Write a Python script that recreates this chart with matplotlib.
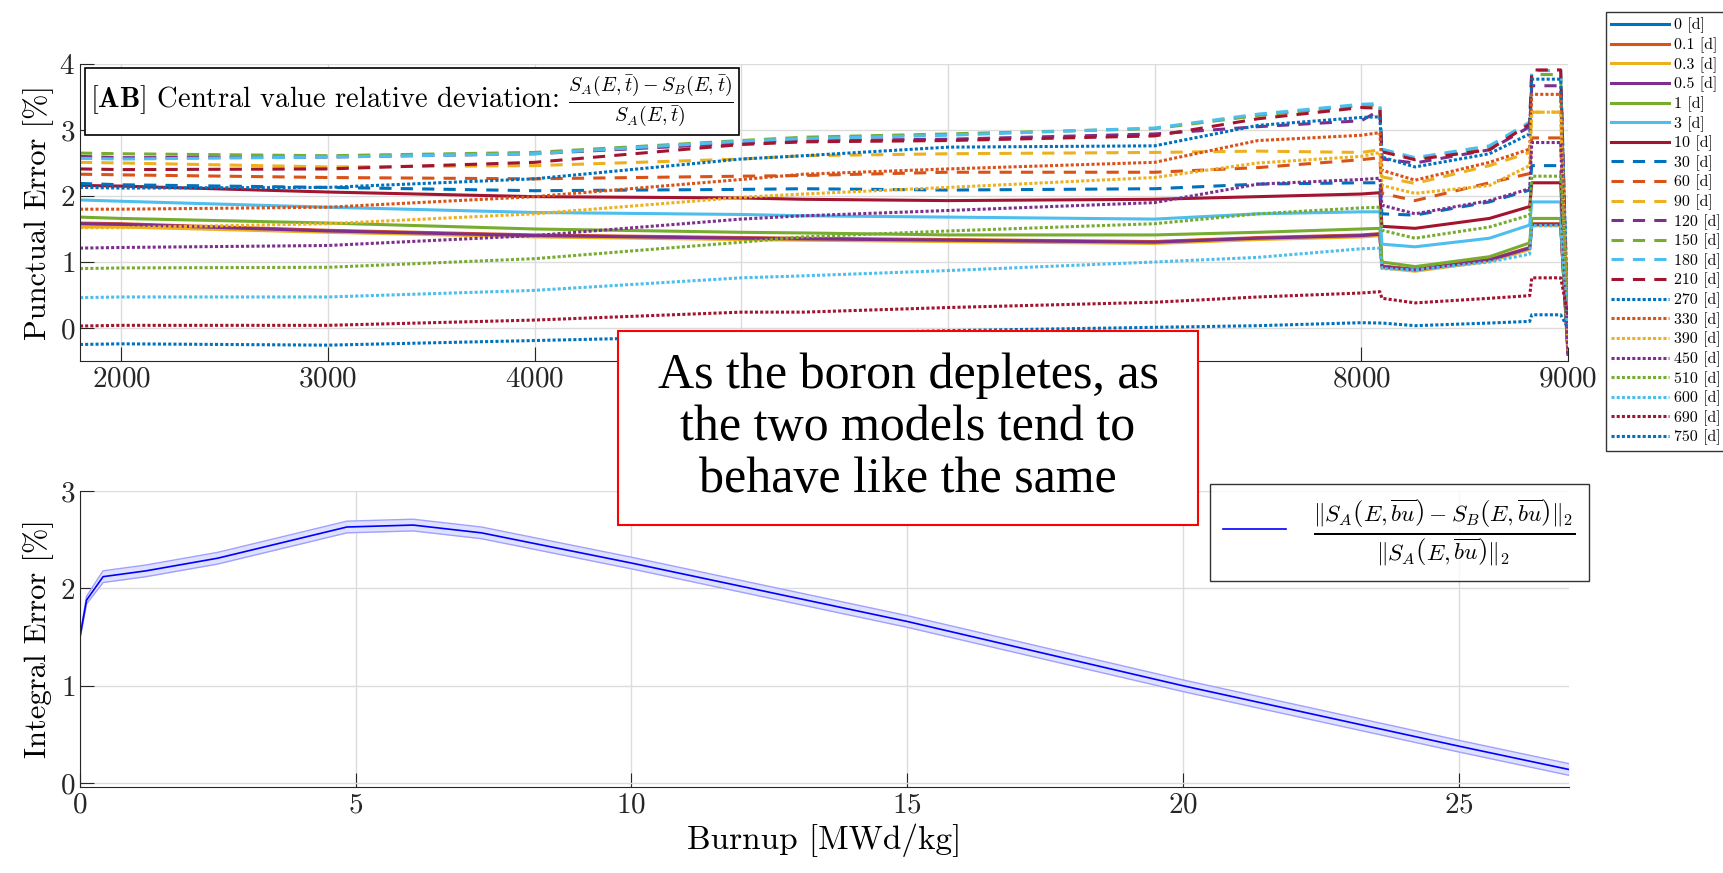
import matplotlib
matplotlib.use('Agg')
from matplotlib import pyplot as plt
from matplotlib.patches import Rectangle

plt.rcParams['font.family'] = ['cmr10']
plt.rcParams['mathtext.fontset'] = 'cm'
plt.rcParams['axes.formatter.use_mathtext'] = True

# Top plot: punctual error vs time, one curve per decay time
time = [1800, 2000, 3000, 4000, 5000, 5300, 6000, 7000, 7500, 8000, 8090,
        8100, 8260, 8620, 8815, 8825, 8965, 9000]

names = ['0', '0.1', '0.3', '0.5', '1', '3', '10',
         '30', '60', '90', '120', '150', '180', '210',
         '270', '330', '390', '450', '510', '600', '690', '750']

err_0 = [1.58, 1.57, 1.47, 1.40, 1.36, 1.35, 1.33, 1.30, 1.36, 1.40, 1.42, 0.93, 0.88, 1.03, 1.21, 1.57, 1.57, -0.35]
err_0p1 = [1.59, 1.58, 1.48, 1.41, 1.37, 1.36, 1.34, 1.31, 1.37, 1.41, 1.43, 0.94, 0.89, 1.04, 1.22, 1.58, 1.58, -0.35]
err_0p3 = [1.53, 1.53, 1.45, 1.38, 1.34, 1.33, 1.31, 1.28, 1.34, 1.38, 1.40, 0.91, 0.86, 1.01, 1.19, 1.55, 1.55, -0.35]
err_0p5 = [1.58, 1.57, 1.47, 1.40, 1.36, 1.35, 1.33, 1.30, 1.36, 1.40, 1.42, 0.93, 0.88, 1.03, 1.21, 1.57, 1.57, -0.40]
err_1 = [1.68, 1.66, 1.59, 1.50, 1.45, 1.44, 1.41, 1.41, 1.45, 1.50, 1.51, 1.00, 0.93, 1.08, 1.29, 1.66, 1.66, -0.30]
err_3 = [1.94, 1.92, 1.83, 1.75, 1.72, 1.70, 1.68, 1.65, 1.73, 1.76, 1.76, 1.27, 1.23, 1.36, 1.56, 1.91, 1.91, -0.05]
err_10 = [2.16, 2.15, 2.06, 1.99, 1.97, 1.95, 1.93, 1.95, 1.99, 2.03, 2.05, 1.54, 1.51, 1.66, 1.84, 2.20, 2.20, -0.20]
err_30 = [2.19, 2.17, 2.13, 2.08, 2.10, 2.11, 2.09, 2.11, 2.18, 2.20, 2.20, 1.73, 1.71, 1.91, 2.09, 2.46, 2.46, -0.30]
err_60 = [2.33, 2.32, 2.28, 2.26, 2.30, 2.31, 2.36, 2.36, 2.43, 2.55, 2.58, 2.04, 1.93, 2.20, 2.34, 2.88, 2.88, -0.35]
err_90 = [2.51, 2.50, 2.44, 2.46, 2.56, 2.61, 2.64, 2.66, 2.68, 2.66, 2.70, 2.29, 2.19, 2.46, 2.66, 3.27, 3.27, -0.35]
err_120 = [2.60, 2.58, 2.59, 2.64, 2.80, 2.84, 2.86, 2.94, 3.05, 3.14, 3.30, 2.56, 2.50, 2.70, 3.05, 3.67, 3.67, -0.35]
err_150 = [2.65, 2.64, 2.61, 2.66, 2.84, 2.89, 2.94, 3.02, 3.22, 3.37, 3.38, 2.69, 2.56, 2.74, 3.10, 3.84, 3.84, -0.30]
err_180 = [2.57, 2.56, 2.59, 2.64, 2.83, 2.87, 2.92, 3.03, 3.24, 3.39, 3.40, 2.71, 2.58, 2.76, 3.12, 3.90, 3.90, 0.00]
err_210 = [2.41, 2.40, 2.41, 2.51, 2.78, 2.82, 2.84, 2.91, 3.17, 3.34, 3.33, 2.67, 2.55, 2.70, 3.09, 3.91, 3.91, -0.30]
err_270 = [2.13, 2.12, 2.13, 2.26, 2.56, 2.61, 2.74, 2.76, 3.07, 3.19, 3.20, 2.59, 2.44, 2.64, 2.94, 3.77, 3.77, 0.10]
err_330 = [1.80, 1.80, 1.83, 1.99, 2.25, 2.33, 2.41, 2.51, 2.84, 2.92, 2.96, 2.39, 2.24, 2.51, 2.71, 3.54, 3.54, -0.30]
err_390 = [1.52, 1.52, 1.58, 1.73, 1.98, 2.03, 2.13, 2.28, 2.50, 2.60, 2.66, 2.16, 2.04, 2.16, 2.46, 3.27, 3.27, -0.35]
err_450 = [1.21, 1.22, 1.25, 1.40, 1.65, 1.70, 1.78, 1.90, 2.18, 2.25, 2.27, 1.86, 1.73, 1.93, 2.11, 2.81, 2.81, -0.40]
err_510 = [0.90, 0.91, 0.92, 1.05, 1.30, 1.38, 1.47, 1.58, 1.73, 1.82, 1.83, 1.48, 1.36, 1.53, 1.71, 2.30, 2.30, 0.40]
err_600 = [0.46, 0.47, 0.47, 0.57, 0.76, 0.79, 0.87, 1.00, 1.07, 1.20, 1.21, 0.90, 0.88, 1.00, 1.12, 1.55, 1.55, 0.00]
err_690 = [0.03, 0.04, 0.04, 0.12, 0.24, 0.24, 0.31, 0.39, 0.47, 0.53, 0.55, 0.45, 0.38, 0.45, 0.49, 0.76, 0.76, 0.20]
err_750 = [-0.25, -0.24, -0.26, -0.19, -0.12, -0.09, -0.04, 0.01, 0.035, 0.08, 0.075, 0.075, 0.035, 0.075, 0.10, 0.20, 0.20, 0.00]

data = [err_0, err_0p1, err_0p3, err_0p5, err_1, err_3, err_10,
        err_30, err_60, err_90, err_120, err_150, err_180, err_210,
        err_270, err_330, err_390, err_450, err_510, err_600, err_690, err_750]

# Bottom plot: integral error vs burnup, with uncertainty band
burnup = [0, 0.12, 0.42, 1.2, 2.5, 4.84, 6.04, 7.28, 10, 15, 20, 25, 27]
int_err = [1.50, 1.88, 2.12, 2.18, 2.31, 2.63, 2.65, 2.57, 2.26, 1.66, 1.00, 0.38, 0.14]
int_err_lo = [1.48, 1.84, 2.06, 2.12, 2.25, 2.57, 2.59, 2.51, 2.20, 1.60, 0.94, 0.32, 0.08]
int_err_hi = [1.52, 1.92, 2.18, 2.24, 2.37, 2.69, 2.71, 2.63, 2.32, 1.72, 1.06, 0.44, 0.20]

# MATLAB default colour order
colors = ['#0072BD', '#D95319', '#EDB120', '#7E2F8E', '#77AC30', '#4DBEEE', '#A2142F']
solid, dashed, dotted = '-', (0, (4, 3)), (0, (1, 0.7))

fig = plt.figure(figsize=(17.23, 8.73), dpi=100)
ax1 = fig.add_axes([0.0464, 0.5865, 0.8636, 0.3402])
ax2 = fig.add_axes([0.0464, 0.0985, 0.8642, 0.3391])

lines = []
for i, (name, vals) in enumerate(zip(names, data)):
    if i < 7:
        ls = solid
    elif i < 14:
        ls = dashed
    else:
        ls = dotted
    ln, = ax1.plot(time, vals, color=colors[i % 7], linestyle=ls,
                   linewidth=2.2, label=f'{name} [d]')
    lines.append(ln)

ax1.set_xlim(1800, 9000)
ax1.set_ylim(-0.5, 4)
ax1.set_xticks([2000, 3000, 4000, 5000, 6000, 7000, 8000, 9000])
ax1.set_yticks([0, 1, 2, 3, 4])
ax1.set_ylabel('Punctual Error [%]', fontsize=22)
ax1.text(0.007, 0.968,
         r'[$\mathbf{AB}$] Central value relative deviation: '
         r'$\frac{S_A(E,\bar{t})-S_B(E,\bar{t})}{S_A(E,\bar{t})}$',
         transform=ax1.transAxes, fontsize=20.5, va='top', ha='left',
         bbox=dict(boxstyle='square,pad=0.18', fc='white', ec='black', lw=1.2))

fig.legend(handles=lines, loc='upper left', bbox_to_anchor=(0.932, 0.986),
           fontsize=11.5, handlelength=3.6, handletextpad=0.3, labelspacing=0.25,
           frameon=True, fancybox=False, edgecolor='black', borderpad=0.35,
           borderaxespad=0)

ax2.fill_between(burnup, int_err_lo, int_err_hi, color='#e0e0ff', linewidth=0)
ax2.plot(burnup, int_err_lo, color='#a0a0ff', linewidth=1)
ax2.plot(burnup, int_err_hi, color='#a0a0ff', linewidth=1)
ln2, = ax2.plot(burnup, int_err, color='blue', linewidth=1.2)
ax2.set_xlim(0, 27)
ax2.set_ylim(-0.04, 3)
ax2.set_xticks([0, 5, 10, 15, 20, 25])
ax2.set_yticks([0, 1, 2, 3])
ax2.set_ylabel('Integral Error [%]', fontsize=22)
ax2.set_xlabel('Burnup [MWd/kg]', fontsize=24)
ax2.legend([ln2],
           [r'$\frac{\|S_A\left(E,\overline{bu}\right)-S_B\left(E,\overline{bu}\right)\|_2}'
            r'{\|S_A\left(E,\overline{bu}\right)\|_2}$'],
           loc='lower right', bbox_to_anchor=(0.9222, 1 - 581 / 873),
           bbox_transform=fig.transFigure, fontsize=24, handlelength=1.9,
           borderpad=0.4, frameon=True, fancybox=False, edgecolor='black',
           borderaxespad=0)

for ax in (ax1, ax2):
    ax.grid(True, color='#dcdcdc', linewidth=1)
    ax.set_axisbelow(True)
    ax.spines['top'].set_visible(False)
    ax.spines['right'].set_visible(False)
    ax.spines['left'].set_color('#262626')
    ax.spines['bottom'].set_color('#262626')
    ax.tick_params(direction='in', length=10, labelsize=21, colors='#262626')

# red callout box on top of both plots
fig.patches.append(Rectangle((618 / 1723, 1 - 525 / 873), 580 / 1723, 194 / 873,
                             transform=fig.transFigure, facecolor='white',
                             edgecolor='red', linewidth=1.5, zorder=10))
fig.text(908 / 1723, 1 - 428 / 873,
         'As the boron depletes, as\nthe two models tend to\nbehave like the same',
         family='Liberation Serif', fontsize=36, ha='center', va='center',
         linespacing=1.15, zorder=11)

fig.savefig('out.png', dpi=100)
